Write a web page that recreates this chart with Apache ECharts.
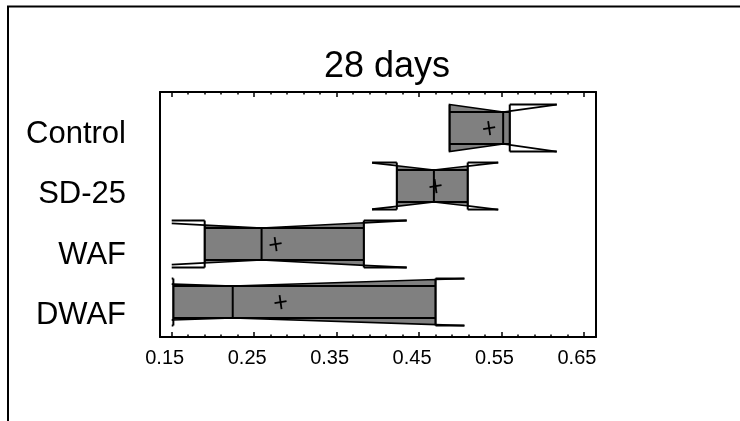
<!DOCTYPE html>
<html>
<head>
<meta charset="utf-8">
<style>
  html, body { margin: 0; padding: 0; background: #fff; }
  #chart { width: 740px; height: 421px; }
</style>
<script src="https://cdn.jsdelivr.net/npm/echarts@6/dist/echarts.min.js"></script>
</head>
<body>
<div id="chart"></div>
<script>
// groups top to bottom
const categories = ['Control', 'SD-25', 'WAF', 'DWAF']
const q1Values = [0.487, 0.423, 0.190, 0.152]
const medianValues = [0.552, 0.468, 0.259, 0.224]
const q3Values = [0.560, 0.509, 0.383, 0.470]
const notchLow = [0.487, 0.393, 0.150, 0.150]
const notchHigh = [0.617, 0.546, 0.435, 0.505]
const meanValues = [0.535, 0.470, 0.276, 0.282]
const xTickLabels = [0.15, 0.25, 0.35, 0.45, 0.55, 0.65]

const minorTicks = []
for (let k = 0; k <= 25; k++) {
  const v = +(0.15 + k * 0.02).toFixed(2)
  if (k % 5 !== 0) minorTicks.push(v)
}

const n = categories.length
const rows = categories.map((name, i) => [
  q1Values[i], medianValues[i], q3Values[i], notchLow[i], notchHigh[i], meanValues[i], n - 1 - i
])

const FONT = '"Liberation Sans", Arial, sans-serif'
const BOX_H = 23.5
const NOTCH_H = 16

const renderBox = (params, api) => {
  const pos = api.value(6)
  const X = (v) => api.coord([v, pos])[0]
  const cy = api.coord([api.value(0), pos])[1]
  const q1 = X(api.value(0))
  const med = X(api.value(1))
  const q3 = X(api.value(2))
  const nlo = X(api.value(3))
  const nhi = X(api.value(4))
  const mean = X(api.value(5))
  const half = Math.max(med - nlo, nhi - med)
  const yTop = (x) => cy - (NOTCH_H + (BOX_H - NOTCH_H) * Math.min(1, Math.abs(x - med) / half))
  const yBot = (x) => 2 * cy - yTop(x)

  const xs = [q1]
  if (nlo > q1 && nlo < med) xs.push(nlo)
  xs.push(med)
  if (nhi > med && nhi < q3) xs.push(nhi)
  xs.push(q3)
  const poly = xs.map((x) => [x, yTop(x)]).concat(xs.slice().reverse().map((x) => [x, yBot(x)]))

  const line = (x1, y1, x2, y2, w) => ({
    type: 'line',
    shape: { x1, y1, x2, y2 },
    style: { stroke: '#000', lineWidth: w }
  })

  const children = [
    { type: 'polygon', shape: { points: poly }, style: { fill: '#808080', stroke: '#000', lineWidth: 1.6 } },
    line(q1, cy - NOTCH_H, q3, cy - NOTCH_H, 2),
    line(q1, cy + NOTCH_H, q3, cy + NOTCH_H, 2),
    line(q1, cy - BOX_H, q1, cy + BOX_H, 2),
    line(q3, cy - BOX_H, q3, cy + BOX_H, 2),
    line(med, cy - NOTCH_H, med, cy + NOTCH_H, 2)
  ]
  if (nlo < q1) {
    children.push(
      line(nlo, cy - BOX_H, q1, cy - BOX_H, 2),
      line(nlo, cy + BOX_H, q1, cy + BOX_H, 2),
      line(nlo, yTop(nlo), q1, yTop(q1), 1.8),
      line(nlo, yBot(nlo), q1, yBot(q1), 1.8)
    )
  }
  if (nhi > q3) {
    children.push(
      line(q3, cy - BOX_H, nhi, cy - BOX_H, 2),
      line(q3, cy + BOX_H, nhi, cy + BOX_H, 2),
      line(q3, yTop(q3), nhi, yTop(nhi), 1.8),
      line(q3, yBot(q3), nhi, yBot(nhi), 1.8)
    )
  }
  children.push(
    line(mean - 6, cy + 1, mean + 6, cy - 1, 1.8),
    line(mean - 1, cy - 7, mean + 1, cy + 7, 1.8)
  )
  return { type: 'group', children }
}

const chart = echarts.init(document.getElementById('chart'))

const xBase = { type: 'value', min: 0.1358, max: 0.6646, splitLine: { show: false } }
const yBase = { type: 'value', min: -0.603, max: 3.621, splitLine: { show: false } }
const frameLine = { show: true, onZero: false, lineStyle: { color: '#000', width: 2 } }
const noLine = { show: false, onZero: false }
const majorTick = { show: true, inside: true, length: 5, customValues: xTickLabels, lineStyle: { color: '#000', width: 1.5 } }
const minorTick = { show: true, inside: true, length: 2.5, customValues: minorTicks, lineStyle: { color: '#000', width: 1.5 } }

chart.setOption({
  animation: false,
  backgroundColor: '#fff',
  title: {
    text: '28 days',
    left: 382,
    top: 44,
    textAlign: 'center',
    textStyle: { fontFamily: FONT, fontSize: 36, fontWeight: 'normal', color: '#000' }
  },
  grid: { left: 160, right: 144, top: 92, bottom: 84 },
  xAxis: [
    {
      ...xBase,
      position: 'bottom',
      axisLine: frameLine,
      axisTick: majorTick,
      axisLabel: {
        customValues: xTickLabels,
        formatter: (v) => v.toFixed(2),
        margin: 11,
        padding: [0, 14, 0, 0],
        fontFamily: FONT,
        fontSize: 20,
        color: '#000'
      }
    },
    { ...xBase, position: 'bottom', axisLine: noLine, axisTick: minorTick, axisLabel: { show: false } },
    { ...xBase, position: 'top', axisLine: frameLine, axisTick: majorTick, axisLabel: { show: false } },
    { ...xBase, position: 'top', axisLine: noLine, axisTick: minorTick, axisLabel: { show: false } }
  ],
  yAxis: [
    { ...yBase, position: 'left', axisLine: frameLine, axisTick: { show: false }, axisLabel: { show: false } },
    {
      type: 'value',
      min: -0.356,
      max: 3.705,
      position: 'left',
      splitLine: { show: false },
      axisLine: noLine,
      axisTick: { show: false },
      axisLabel: {
        customValues: [0, 1, 2, 3],
        formatter: (v) => categories[n - 1 - Math.round(v)],
        margin: 34,
        fontFamily: FONT,
        fontSize: 31,
        color: '#000'
      }
    },
    { ...yBase, position: 'right', axisLine: frameLine, axisTick: { show: false }, axisLabel: { show: false } }
  ],
  graphic: [
    {
      type: 'polyline',
      shape: { points: [[8, 421], [8, 6.5], [740, 6.5]] },
      style: { stroke: '#000', lineWidth: 2, fill: null }
    }
  ],
  series: [
    {
      type: 'custom',
      xAxisIndex: 0,
      yAxisIndex: 0,
      renderItem: renderBox,
      encode: { x: [0, 1, 2, 3, 4, 5], y: 6 },
      data: rows
    }
  ]
})

window.addEventListener('resize', () => chart.resize())
</script>
</body>
</html>
